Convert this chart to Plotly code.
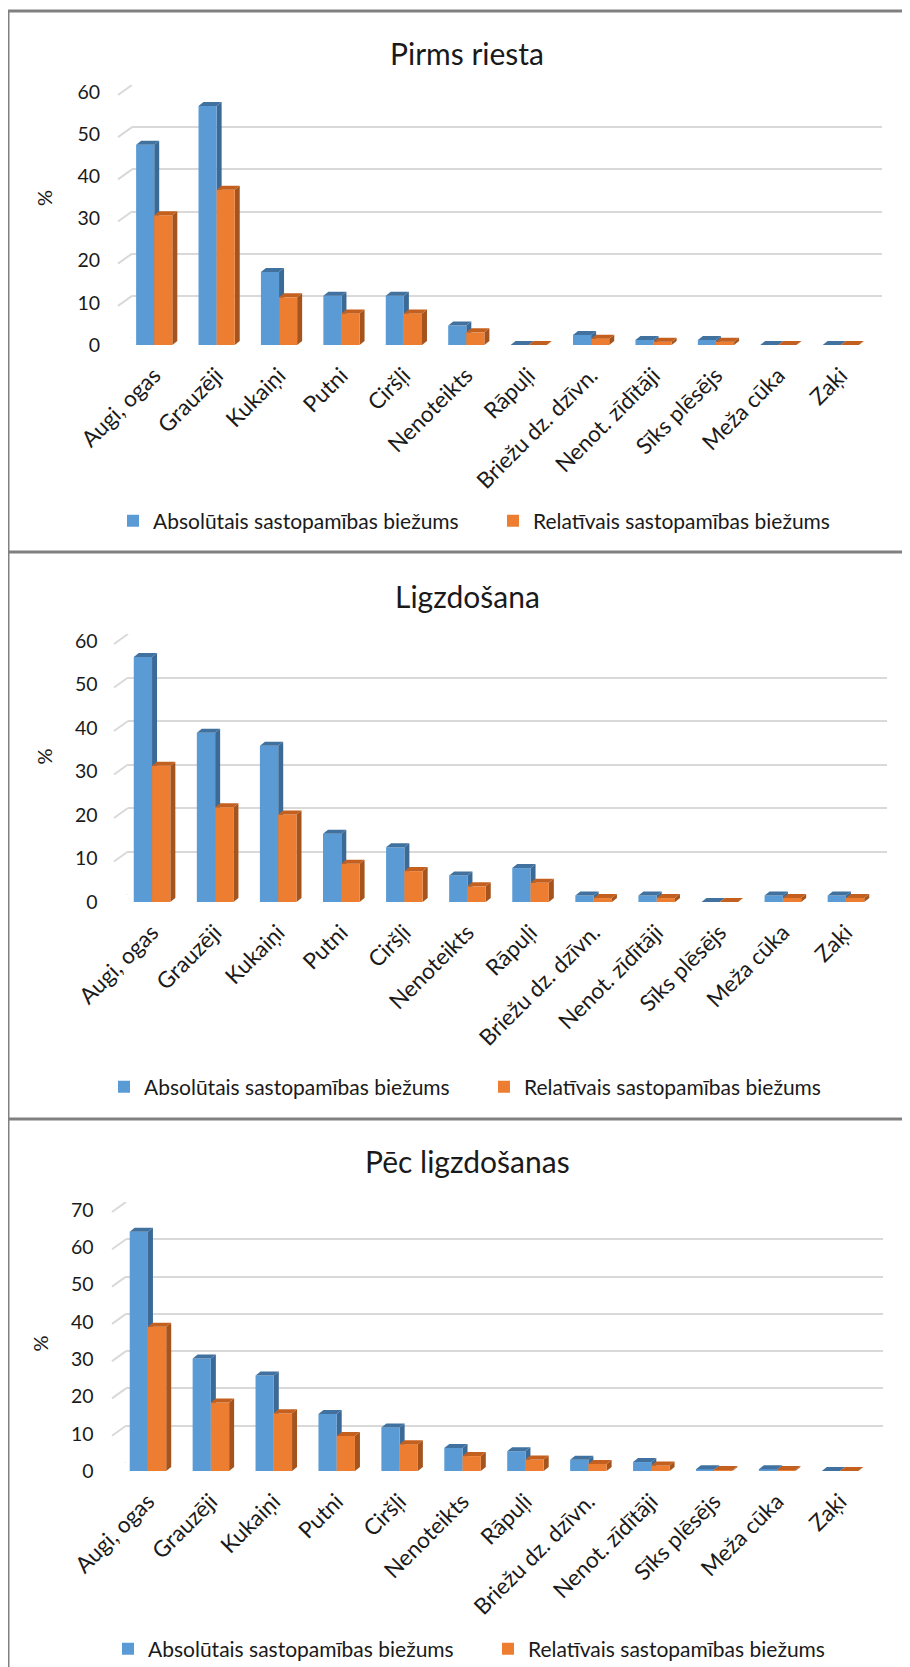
import plotly.graph_objects as go

# ---------------- data ----------------
categories = ["Augi, ogas", "Grauzēji", "Kukaiņi", "Putni", "Ciršļi", "Nenoteikts",
              "Rāpuļi", "Briežu dz. dzīvn.", "Nenot. zīdītāji", "Sīks plēsējs",
              "Meža cūka", "Zaķi"]
panel_titles = ["Pirms riesta", "Ligzdošana", "Pēc ligzdošanas"]
series_names = ["Absolūtais sastopamības biežums", "Relatīvais sastopamības biežums"]

abs_pirms = [47.5, 56.7, 17.3, 11.7, 11.7, 4.6, 0, 2.4, 1.2, 1.2, 0, 0]
rel_pirms = [30.8, 36.8, 11.3, 7.5, 7.5, 3.0, 0, 1.5, 0.8, 0.8, 0, 0]
abs_ligzd = [56.3, 38.9, 35.9, 15.7, 12.6, 6.1, 7.8, 1.5, 1.5, 0, 1.5, 1.5]
rel_ligzd = [31.3, 21.8, 20.1, 8.8, 7.1, 3.6, 4.4, 0.9, 0.9, 0, 0.9, 0.9]
abs_pec = [64.2, 30.2, 25.6, 15.3, 11.7, 6.2, 5.3, 3.0, 2.4, 0.5, 0.5, 0]
rel_pec = [38.7, 18.4, 15.5, 9.4, 7.2, 4.0, 3.1, 1.9, 1.5, 0.3, 0.3, 0]
y_max = [60, 60, 70]
y_title = "%"

panel_values = [(abs_pirms, rel_pirms), (abs_ligzd, rel_ligzd), (abs_pec, rel_pec)]

# ---------------- geometry / style ----------------
OFF = 8                      # default page (body) margin of the html page
W, H = 910 - OFF, 1667 - OFF
FONT = "Lato"
TXT = "#1a1a1a"
front_col = ["#5B9BD5", "#ED7D31"]
side_col = ["#3C6A96", "#A5541D"]
cap_col = ["#41729F", "#C4601F"]
BARGAP = 0.42
DX, DY = 5, 4  # 3D depth in px

# positions below are window pixels
panels = [
    dict(title_y=53, bar_x=(123, 872), bar_y=(92, 345), grid_x=(132, 882), grid_y=(85, 338),
         pct=(44, 198), leg_y=521, leg_x=113, box=(11, 552)),
    dict(title_y=596, bar_x=(120.5, 877.5), bar_y=(641, 902), grid_x=(128, 887), grid_y=(634, 895),
         pct=(43.5, 757), leg_y=1087, leg_x=104, box=(552, 1119)),
    dict(title_y=1161, bar_x=(116.5, 871.5), bar_y=(1210, 1471), grid_x=(126, 883), grid_y=(1202, 1463),
         pct=(39.5, 1343), leg_y=1649, leg_x=108, box=(1119, 1700)),
]


def fx(px):
    return (px - OFF) / W


def fy(py):
    return 1 - (py - OFF) / H


fig = go.Figure()
shapes = []
annotations = []
layout = {}
n = len(categories)
xs = list(range(n))

for p, (pan, vals) in enumerate(zip(panels, panel_values)):
    gi = p + 1          # grid axes index 1..3
    bi = p + 4          # bar axes index 4..6
    gsx = "" if gi == 1 else str(gi)
    bsx = str(bi)
    leg = "legend" if p == 0 else f"legend{p + 1}"

    # grid (back wall) subplot
    fig.add_trace(go.Scatter(x=[], y=[], xaxis="x" + gsx, yaxis="y" + gsx,
                             showlegend=False, hoverinfo="skip"))
    layout["xaxis" + gsx] = dict(domain=[fx(pan["grid_x"][0]), fx(pan["grid_x"][1])],
                                 anchor="y" + gsx, range=[0, 1], visible=False,
                                 automargin=False)
    layout["yaxis" + gsx] = dict(domain=[fy(pan["grid_y"][1]), fy(pan["grid_y"][0])],
                                 anchor="x" + gsx, range=[0, y_max[p]], dtick=10,
                                 showgrid=True, gridcolor="#D9D9D9", gridwidth=2,
                                 zeroline=False, showticklabels=False, ticks="",
                                 automargin=False)

    # bars subplot
    for s in range(2):
        fig.add_trace(go.Bar(x=xs, y=vals[s], name=series_names[s],
                             marker=dict(color=front_col[s], line=dict(width=0)),
                             xaxis="x" + bsx, yaxis="y" + bsx, legend=leg,
                             showlegend=True))
    layout["xaxis" + bsx] = dict(domain=[fx(pan["bar_x"][0]), fx(pan["bar_x"][1])],
                                 anchor="y" + bsx, range=[-0.5, n - 0.5],
                                 tickmode="array", tickvals=xs, ticktext=categories,
                                 tickangle=-45, showgrid=False, zeroline=False,
                                 showline=False, ticks="", ticklabelstandoff=12,
                                 automargin=False,
                                 tickfont=dict(family=FONT, size=22.5, color=TXT))
    layout["yaxis" + bsx] = dict(domain=[fy(pan["bar_y"][1]), fy(pan["bar_y"][0])],
                                 anchor="x" + bsx, range=[0, y_max[p]], dtick=10,
                                 showgrid=False, zeroline=False, showline=False,
                                 ticks="", ticklabelstandoff=22, automargin=False,
                                 tickfont=dict(family=FONT, size=19.5, color=TXT))

    # 3D side & cap faces derived from the data values and the axis scale
    cat_px = (pan["bar_x"][1] - pan["bar_x"][0]) / n
    val_px = (pan["bar_y"][1] - pan["bar_y"][0]) / y_max[p]
    dxu, dyu = DX / cat_px, DY / val_px
    w = (1 - BARGAP) / 2
    for s in range(2):
        for i, v in enumerate(vals[s]):
            x0 = i - w if s == 0 else i
            x1 = x0 + w
            side = (f"M{x1},0 L{x1 + dxu},{dyu} L{x1 + dxu},{v + dyu} L{x1},{v} Z")
            cap = (f"M{x0},{v} L{x0 + dxu},{v + dyu} L{x1 + dxu},{v + dyu} L{x1},{v} Z")
            shapes.append(dict(type="path", path=side, xref="x" + bsx, yref="y" + bsx,
                               fillcolor=side_col[s], line=dict(width=0), layer="below"))
            shapes.append(dict(type="path", path=cap, xref="x" + bsx, yref="y" + bsx,
                               fillcolor=cap_col[s], line=dict(width=0), layer="above"))

    # diagonal tick stubs from front to back wall
    back_l = pan["grid_x"][0]
    gscale = (pan["grid_y"][1] - pan["grid_y"][0]) / y_max[p]
    for t in range(0, y_max[p] + 1, 10):
        shapes.append(dict(type="line", xref="paper", yref="y" + gsx,
                           x0=fx(back_l - 14), y0=t - 10 / gscale, x1=fx(back_l), y1=t,
                           line=dict(color="#D9D9D9", width=2), layer="below"))

    # panel border (top + left)
    shapes.append(dict(type="line", xref="paper", yref="paper", x0=fx(8), x1=fx(930),
                       y0=fy(pan["box"][0]), y1=fy(pan["box"][0]),
                       line=dict(color="#808080", width=3)))
    shapes.append(dict(type="line", xref="paper", yref="paper", x0=fx(8.5), x1=fx(8.5),
                       y0=fy(pan["box"][0]), y1=fy(pan["box"][1]),
                       line=dict(color="#808080", width=2)))

    annotations.append(dict(text=panel_titles[p], x=fx(467), y=fy(pan["title_y"]),
                            xref="paper", yref="paper", showarrow=False,
                            xanchor="center", yanchor="middle",
                            font=dict(family=FONT, size=30, color=TXT)))
    annotations.append(dict(text=y_title, x=fx(pan["pct"][0]), y=fy(pan["pct"][1]),
                            xref="paper", yref="paper", showarrow=False, textangle=-90,
                            xanchor="center", yanchor="middle",
                            font=dict(family=FONT, size=20, color=TXT)))

    layout[leg] = dict(orientation="h", x=fx(pan["leg_x"]), y=fy(pan["leg_y"]),
                       xanchor="left", yanchor="middle", bgcolor="rgba(0,0,0,0)",
                       font=dict(family=FONT, size=21, color=TXT),
                       entrywidthmode="pixels", entrywidth=335,
                       itemclick=False, itemdoubleclick=False)

fig.update_layout(**layout)
fig.update_layout(width=W, height=H, margin=dict(l=0, r=0, t=0, b=0, autoexpand=False),
                  paper_bgcolor="white", plot_bgcolor="rgba(0,0,0,0)",
                  barmode="group", bargap=BARGAP, bargroupgap=0,
                  shapes=shapes, annotations=annotations,
                  font=dict(family=FONT, color=TXT), hovermode=False)

fig.write_html("out.html")
